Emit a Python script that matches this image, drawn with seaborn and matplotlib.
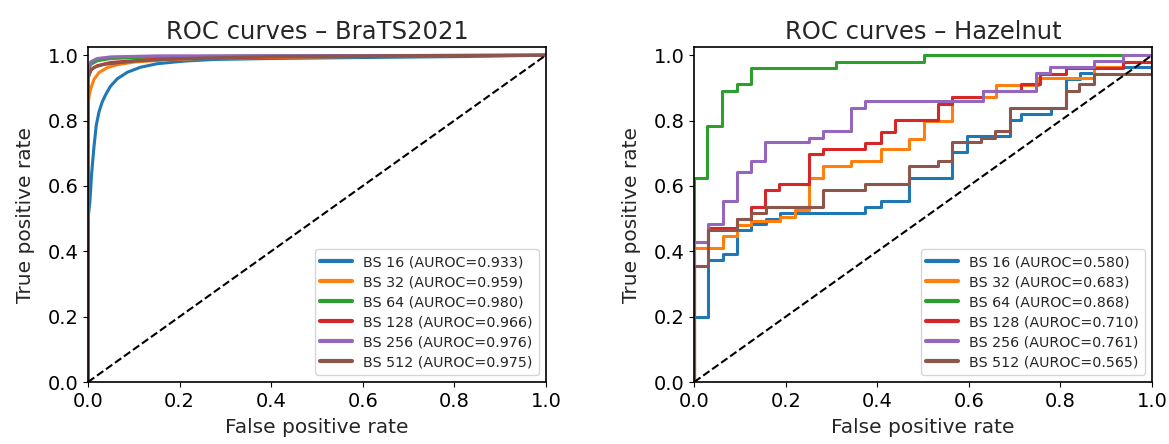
#!/usr/bin/env python3

import matplotlib
matplotlib.use("Agg")
import matplotlib.pyplot as plt
import pandas as pd
import seaborn as sns

batch_sizes = [16, 32, 64, 128, 256, 512]
brats_auroc = [0.933, 0.959, 0.980, 0.966, 0.976, 0.975]
hazelnut_auroc = [0.580, 0.683, 0.868, 0.710, 0.761, 0.565]

# BraTS2021 curves (dense, drawn as lines)
brats_fpr_16 = [0, 0, 0.004, 0.008, 0.013, 0.018, 0.024, 0.031, 0.038, 0.049, 0.064,
                0.086, 0.114, 0.151, 0.209, 0.274, 0.4, 0.6, 0.815, 1.0]
brats_tpr_16 = [0, 0.50, 0.55, 0.64, 0.72, 0.786, 0.827, 0.857, 0.878, 0.905, 0.928,
                0.948, 0.963, 0.974, 0.982, 0.987, 0.99, 0.993, 0.996, 1.0]
brats_fpr_32 = [0, 0, 0.003, 0.006, 0.013, 0.024, 0.042, 0.064, 0.1, 0.172, 0.274,
                0.45, 0.6, 0.8, 1.0]
brats_tpr_32 = [0, 0.85, 0.88, 0.898, 0.926, 0.947, 0.962, 0.971, 0.979, 0.986, 0.991,
                0.994, 0.996, 0.999, 1.0]
brats_fpr_64 = [0, 0, 0.006, 0.02, 0.05, 0.15, 0.4, 1.0]
brats_tpr_64 = [0, 0.95, 0.972, 0.983, 0.99, 0.995, 0.998, 1.0]
brats_fpr_128 = [0, 0, 0.006, 0.02, 0.05, 0.15, 0.4, 1.0]
brats_tpr_128 = [0, 0.93, 0.955, 0.968, 0.978, 0.988, 0.995, 1.0]
brats_fpr_256 = [0, 0, 0.006, 0.02, 0.05, 0.15, 1.0]
brats_tpr_256 = [0, 0.955, 0.98, 0.99, 0.995, 0.998, 1.0]
brats_fpr_512 = [0, 0, 0.006, 0.013, 0.035, 0.1, 0.209, 0.4, 0.7, 1.0]
brats_tpr_512 = [0, 0.93, 0.953, 0.963, 0.972, 0.982, 0.99, 0.996, 0.999, 1.0]

# Hazelnut curves (few thresholds, drawn as steps)
haz_fpr_16 = [0, 0, 0.031, 0.062, 0.094, 0.125, 0.156, 0.187, 0.374, 0.407, 0.470,
              0.564, 0.596, 0.690, 0.714, 0.780, 0.811, 0.842, 0.873, 1.0]
haz_tpr_16 = [0, 0.199, 0.373, 0.391, 0.464, 0.483, 0.50, 0.517, 0.537, 0.554, 0.625,
              0.703, 0.752, 0.802, 0.820, 0.838, 0.926, 0.946, 0.964, 1.0]
haz_fpr_32 = [0, 0, 0.062, 0.094, 0.125, 0.187, 0.22, 0.25, 0.281, 0.343, 0.407,
              0.469, 0.502, 0.564, 0.659, 0.751, 0.874, 0.936, 1.0]
haz_tpr_32 = [0, 0.409, 0.446, 0.48, 0.493, 0.505, 0.525, 0.625, 0.662, 0.677, 0.713,
              0.745, 0.80, 0.871, 0.908, 0.93, 0.963, 0.98, 1.0]
haz_fpr_64 = [0, 0, 0.029, 0.060, 0.093, 0.124, 0.31, 0.502, 1.0]
haz_tpr_64 = [0, 0.624, 0.784, 0.892, 0.911, 0.961, 0.98, 1.0, 1.0]
haz_fpr_128 = [0, 0, 0.031, 0.094, 0.124, 0.155, 0.186, 0.25, 0.281, 0.374, 0.407,
               0.438, 0.532, 0.563, 0.63, 0.713, 0.756, 0.813, 0.937, 1.0]
haz_tpr_128 = [0, 0.43, 0.47, 0.50, 0.535, 0.589, 0.606, 0.698, 0.713, 0.731, 0.766,
               0.802, 0.85, 0.873, 0.89, 0.911, 0.944, 0.962, 0.98, 1.0]
haz_fpr_256 = [0, 0, 0.031, 0.062, 0.094, 0.124, 0.155, 0.25, 0.281, 0.343, 0.374,
               0.63, 0.747, 0.777, 0.873, 0.937, 1.0]
haz_tpr_256 = [0, 0.429, 0.485, 0.554, 0.642, 0.677, 0.733, 0.748, 0.767, 0.84, 0.859,
               0.89, 0.946, 0.965, 0.982, 1.0, 1.0]
haz_fpr_512 = [0, 0, 0.031, 0.094, 0.124, 0.156, 0.281, 0.374, 0.47, 0.532, 0.563,
               0.626, 0.657, 0.689, 0.812, 0.841, 0.874, 1.0]
haz_tpr_512 = [0, 0.355, 0.465, 0.498, 0.517, 0.537, 0.588, 0.605, 0.66, 0.677, 0.733,
               0.748, 0.767, 0.838, 0.89, 0.911, 0.944, 1.0]

chance_line = [0.0, 1.0]


def build_frame(curves, aurocs):
    rows = []
    for bs, auc, (fpr, tpr) in zip(batch_sizes, aurocs, curves):
        label = "BS {} (AUROC={:.3f})".format(bs, auc)
        for x, y in zip(fpr, tpr):
            rows.append({"fpr": x, "tpr": y, "model": label})
    return pd.DataFrame(rows)


def draw_panel(ax, df, title, steps):
    kws = {"drawstyle": "steps-post"} if steps else {}
    sns.lineplot(data=df, x="fpr", y="tpr", hue="model", palette="tab10",
                 estimator=None, sort=False, linewidth=2.2, ax=ax, **kws)
    ax.plot(chance_line, chance_line, "k--", linewidth=1.5)
    ax.set_xlim(0, 1)
    ax.set_ylim(0, 1.025)
    ax.set_title(title, fontsize=17.5)
    ax.set_xlabel("False positive rate", fontsize=14.5, labelpad=5)
    ax.set_ylabel("True positive rate", fontsize=14.5, labelpad=9)
    ax.tick_params(labelsize=14)
    sns.move_legend(ax, "lower right", title=None, fontsize=10.3,
                    handlelength=2.2, labelspacing=0.42)
    for line in ax.get_legend().get_lines():
        line.set_linewidth(3)


def main():
    sns.set_style("ticks")
    plt.rcParams["font.family"] = ["DejaVu Sans"]
    plt.rcParams["axes.edgecolor"] = "black"
    plt.rcParams["axes.linewidth"] = 1.2
    plt.rcParams["xtick.color"] = "black"
    plt.rcParams["ytick.color"] = "black"

    brats = build_frame([
        (brats_fpr_16, brats_tpr_16), (brats_fpr_32, brats_tpr_32),
        (brats_fpr_64, brats_tpr_64), (brats_fpr_128, brats_tpr_128),
        (brats_fpr_256, brats_tpr_256), (brats_fpr_512, brats_tpr_512),
    ], brats_auroc)
    hazelnut = build_frame([
        (haz_fpr_16, haz_tpr_16), (haz_fpr_32, haz_tpr_32),
        (haz_fpr_64, haz_tpr_64), (haz_fpr_128, haz_tpr_128),
        (haz_fpr_256, haz_tpr_256), (haz_fpr_512, haz_tpr_512),
    ], hazelnut_auroc)

    fig, (ax1, ax2) = plt.subplots(1, 2, figsize=(11.69, 4.44), dpi=100)
    plt.subplots_adjust(left=0.0753, right=0.9855, bottom=0.1396, top=0.894,
                        wspace=0.324)
    draw_panel(ax1, brats, "ROC curves \u2013 BraTS2021", steps=False)
    draw_panel(ax2, hazelnut, "ROC curves \u2013 Hazelnut", steps=True)
    fig.savefig("out.png", dpi=100)


if __name__ == '__main__':
    main()
